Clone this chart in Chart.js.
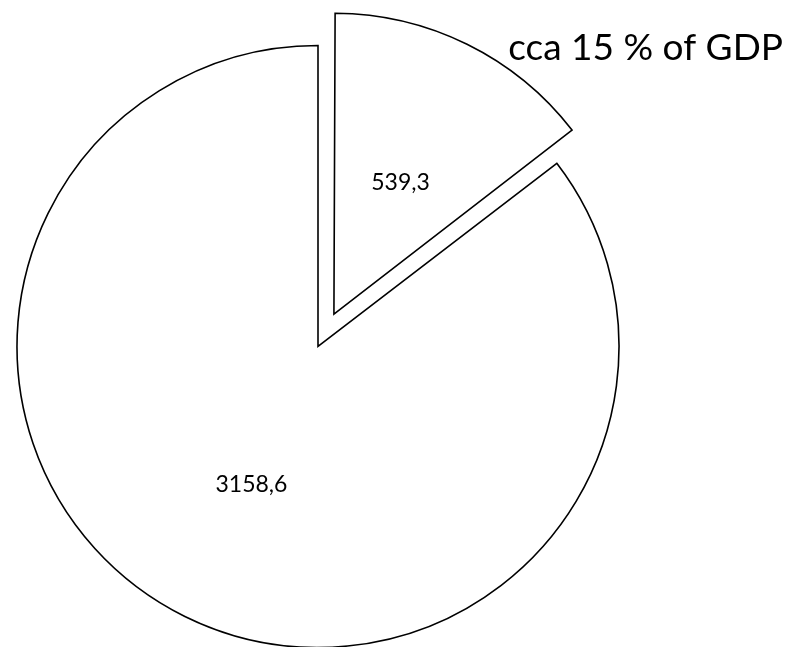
<!DOCTYPE html>
<html>
<head>
<meta charset="utf-8">
<script src="https://cdn.jsdelivr.net/npm/chart.js@4/dist/chart.umd.min.js"></script>
<style>
  body { margin: 0; background: #fff; }
  #wrap { width: 795px; height: 647px; position: relative; }
</style>
</head>
<body>
<div id="wrap"><canvas id="pieChart"></canvas></div>
<script>
// --- Data ---
const categories = ["Share", "Rest"];
const values = [539.3, 3158.6];
const explode = [144, 0];   // chart.js moves an arc by offset / 4
const caption = "cca 15 % of GDP";

const fmt = v => v.toFixed(1).replace(".", ",");

// chart.js also grows an exploded arc's radius a bit; undo that so both slices match
const radiusFix = {
    id: "radiusFix",
    beforeDatasetsDraw(chart) {
        const meta = chart.getDatasetMeta(0);
        const R = meta.controller.outerRadius;
        meta.data.forEach((arc) => {
            const off = (arc.options.offset || 0) / 4;
            const fix = 1 - Math.sin(Math.min(Math.PI, arc.circumference || 0));
            arc.outerRadius = R - off * fix;
        });
    }
};

// value labels at half radius of each slice + the caption text
const labelPlugin = {
    id: "sliceLabels",
    afterDatasetsDraw(chart) {
        const ctx = chart.ctx;
        const meta = chart.getDatasetMeta(0);
        const R = meta.controller.outerRadius;
        ctx.save();
        ctx.fillStyle = "#000";
        ctx.font = "23px Lato";
        ctx.textAlign = "center";
        ctx.textBaseline = "middle";
        meta.data.forEach((arc, i) => {
            const mid = (arc.startAngle + arc.endAngle) / 2;
            const r = (arc.options.offset || 0) / 4 + R * 0.5;
            ctx.fillText(fmt(values[i]), arc.x + Math.cos(mid) * r, arc.y + Math.sin(mid) * r + 3);
        });

        ctx.font = "37px Lato";
        ctx.textAlign = "right";
        ctx.textBaseline = "alphabetic";
        ctx.fillText(caption, 783, 60);
        ctx.restore();
    }
};

const pieChart = new Chart(document.getElementById("pieChart").getContext("2d"), {
    type: "pie",
    data: {
        labels: categories,
        datasets: [{
            data: values,
            backgroundColor: "#ffffff",
            borderColor: "#000000",
            borderWidth: 1.6,
            borderJoinStyle: "miter",
            offset: explode,
            radius: 301,
            clip: false
        }]
    },
    options: {
        responsive: true,
        maintainAspectRatio: false,
        animation: false,
        layout: { padding: { left: 0, right: 159, top: 46, bottom: 0 } },
        plugins: { legend: { display: false }, tooltip: { enabled: false } }
    },
    plugins: [radiusFix, labelPlugin]
});
</script>
</body>
</html>
